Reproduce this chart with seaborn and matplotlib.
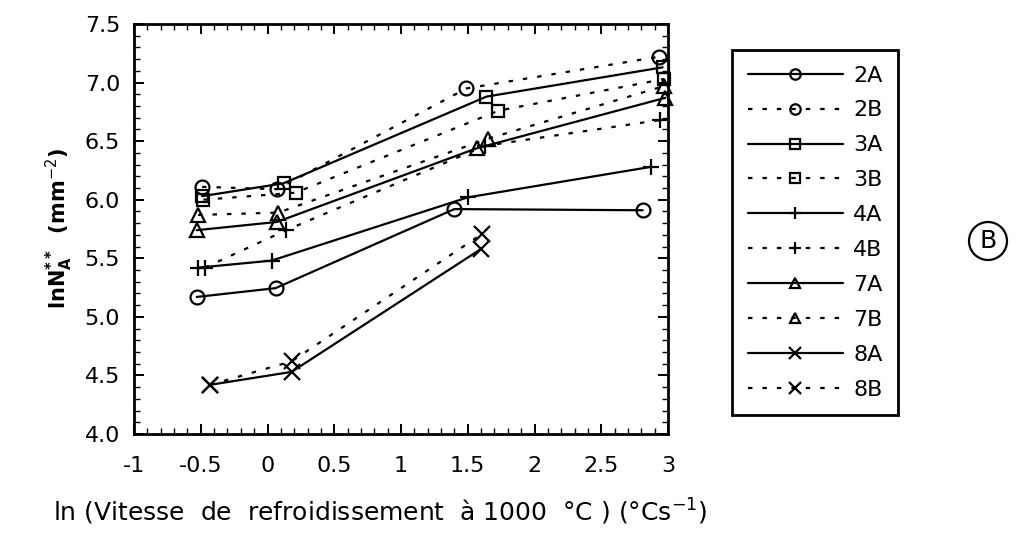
import matplotlib
matplotlib.use("Agg")
import matplotlib.pyplot as plt
from matplotlib.lines import Line2D
from matplotlib.ticker import MultipleLocator
import seaborn as sns
import pandas as pd

# Cooling-rate study: ln of grain density vs ln of cooling rate at 1000 °C
series_names = ["2A", "2B", "3A", "3B", "4A", "4B", "7A", "7B", "8A", "8B"]

x_2A = [-0.53, 0.06, 1.40, 2.81]
y_2A = [5.17, 5.245, 5.92, 5.91]
x_2B = [-0.49, 0.07, 1.49, 2.93]
y_2B = [6.11, 6.09, 6.95, 7.22]
x_3A = [-0.49, 0.12, 1.64, 2.96]
y_3A = [6.03, 6.14, 6.88, 7.13]
x_3B = [-0.48, 0.21, 1.73, 2.97]
y_3B = [6.00, 6.06, 6.76, 7.03]
x_4A = [-0.52, 0.03, 1.50, 2.87]
y_4A = [5.42, 5.48, 6.02, 6.28]
x_4B = [-0.47, 0.14, 1.63, 2.94]
y_4B = [5.42, 5.74, 6.46, 6.68]
x_7A = [-0.53, 0.07, 1.57, 2.98]
y_7A = [5.74, 5.81, 6.44, 6.87]
x_7B = [-0.52, 0.08, 1.65, 2.97]
y_7B = [5.87, 5.89, 6.52, 6.97]
x_8A = [-0.43, 0.18, 1.60]
y_8A = [4.42, 4.53, 5.58]
x_8B = [-0.43, 0.18, 1.61]
y_8B = [4.42, 4.62, 5.71]

xs = [x_2A, x_2B, x_3A, x_3B, x_4A, x_4B, x_7A, x_7B, x_8A, x_8B]
ys = [y_2A, y_2B, y_3A, y_3B, y_4A, y_4B, y_7A, y_7B, y_8A, y_8B]

x_ticks = [-1, -0.5, 0, 0.5, 1, 1.5, 2, 2.5, 3]
x_tick_labels = ["-1", "-0.5", "0", "0.5", "1", "1.5", "2", "2.5", "3"]
y_ticks = [4.0, 4.5, 5.0, 5.5, 6.0, 6.5, 7.0, 7.5]
y_tick_labels = ["4.0", "4.5", "5.0", "5.5", "6.0", "6.5", "7.0", "7.5"]

markers = {"2": "o", "3": "s", "4": "+", "7": "^", "8": "x"}
marker_sizes = {"o": 10, "s": 9, "+": 12, "^": 10, "x": 11}
dotted = (0, (2, 4.5))

sns.set_style("ticks")
plt.rcParams["font.family"] = ["DejaVu Sans"]
plt.rcParams["mathtext.fontset"] = "dejavusans"
plt.rcParams["text.color"] = "black"
plt.rcParams["axes.labelcolor"] = "black"

fig = plt.figure(figsize=(10.29, 5.38), dpi=100)
ax = fig.add_axes([134 / 1029, 1 - 434 / 538, (668 - 134) / 1029, (434 - 24) / 538])

handles = []
for name, xv, yv in zip(series_names, xs, ys):
    df = pd.DataFrame({"x": xv, "y": yv})
    m = markers[name[0]]
    ls = "-" if name.endswith("A") else dotted
    style = dict(color="black", marker=m, markersize=marker_sizes[m],
                 markerfacecolor="none", markeredgecolor="black",
                 markeredgewidth=1.6, linewidth=1.6, linestyle=ls)
    sns.lineplot(data=df, x="x", y="y", ax=ax, sort=False, estimator=None,
                 legend=False, clip_on=False, **style)
    hstyle = dict(style)
    hstyle["markersize"] = marker_sizes[m] * 0.75
    handles.append(Line2D([], [], label=name, **hstyle))

ax.set_xlim(-1, 3)
ax.set_ylim(4.0, 7.5)
ax.xaxis.set_minor_locator(MultipleLocator(0.1))
ax.yaxis.set_minor_locator(MultipleLocator(0.1))
ax.set_xticks(x_ticks)
ax.set_xticklabels(x_tick_labels)
ax.set_yticks(y_ticks)
ax.set_yticklabels(y_tick_labels)
ax.tick_params(which="both", direction="in", top=True, right=True,
               colors="black", labelsize=16)
ax.tick_params(which="major", length=7, width=1.4)
ax.tick_params(which="minor", length=4, width=1.0)
ax.tick_params(axis="x", pad=16)
ax.tick_params(axis="y", pad=10)
for sp in ax.spines.values():
    sp.set_linewidth(2)
    sp.set_color("black")
ax.set_xlabel("")
ax.set_ylabel(r"$\mathbf{lnN_{A}^{**}}$  (mm$^{-2}$)", fontsize=15,
              fontweight="bold", labelpad=7)

fig.text(380 / 1029, 1 - 512 / 538,
         r"ln (Vitesse  de  refroidissement  à 1000  °C ) (°Cs$^{-1}$)",
         ha="center", va="center", fontsize=18)

leg = fig.legend(handles=handles, loc="upper left",
                 bbox_to_anchor=(732 / 1029, 1 - 50 / 538), borderaxespad=0,
                 fontsize=16, handlelength=4.3, handletextpad=0.45,
                 labelspacing=0.67, borderpad=0.7, frameon=True,
                 fancybox=False, framealpha=1)
leg.get_frame().set_edgecolor("black")
leg.get_frame().set_linewidth(2)

fig.text(988 / 1029, 1 - 241 / 538, "B", ha="center", va="center",
         fontsize=18, bbox=dict(boxstyle="circle,pad=0.28", fc="white",
                                ec="black", lw=1.6))

fig.savefig("out.png", dpi=100)
